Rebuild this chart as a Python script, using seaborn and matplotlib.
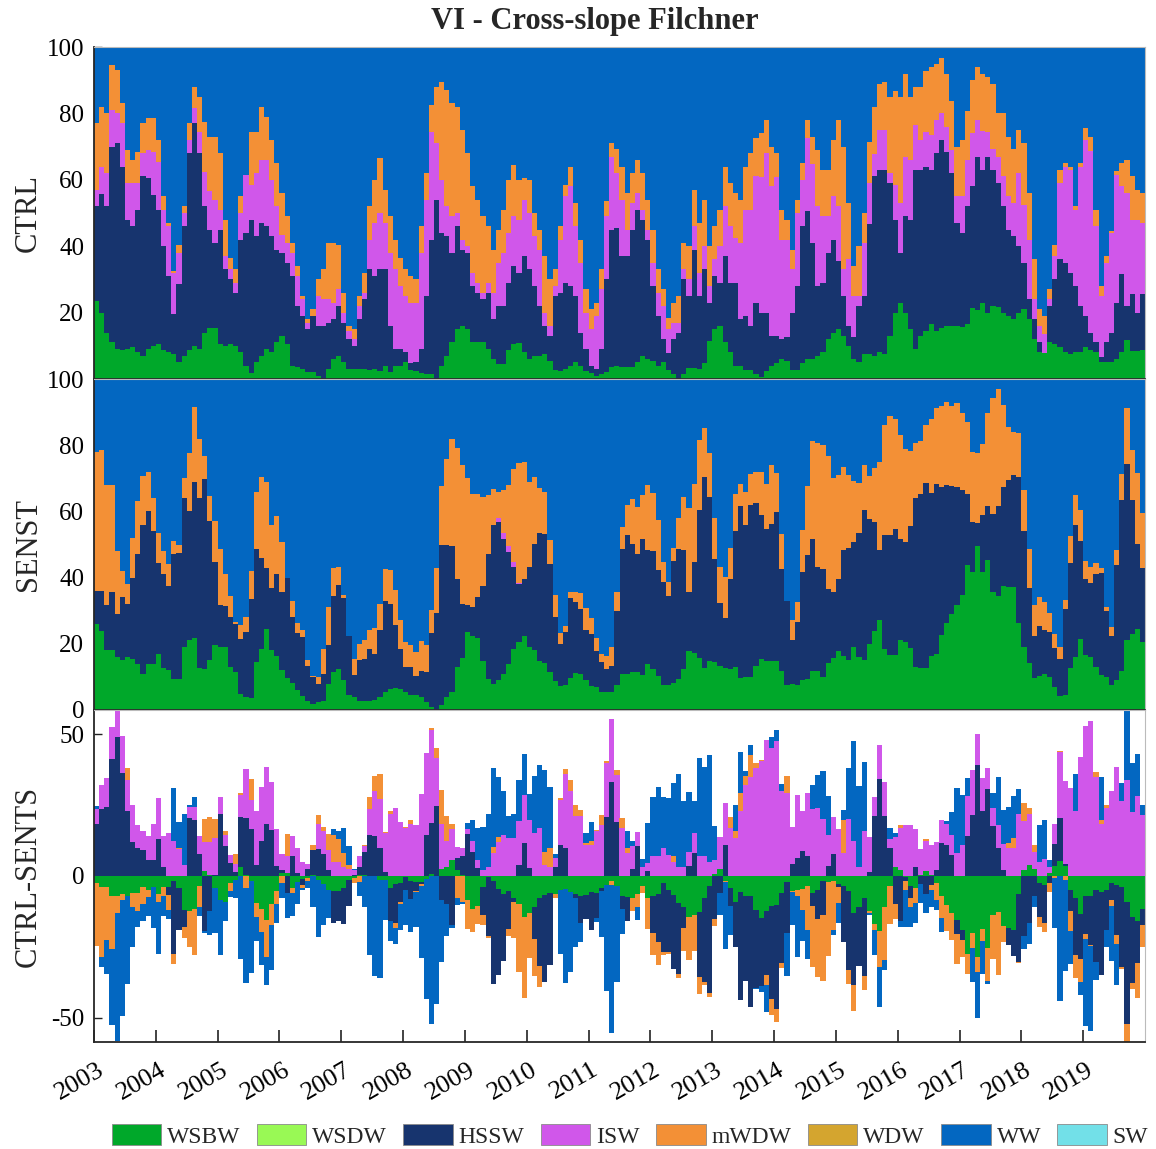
import numpy as np
import pandas as pd
import matplotlib
matplotlib.use("Agg")
import matplotlib.pyplot as plt
from matplotlib.patches import Patch
from matplotlib.transforms import ScaledTranslation
import seaborn as sns

# Water-mass names and colours (legend order)
MASSES = ["WSBW", "WSDW", "HSSW", "ISW", "mWDW", "WDW", "WW", "SW"]
COLORS = {
    "WSBW": "#00A82A", "WSDW": "#99F955", "HSSW": "#17346E", "ISW": "#D057EA",
    "mWDW": "#F39036", "WDW": "#D4A52F", "WW": "#0367C1", "SW": "#72E0E8",
}
STACKED = ["WSBW", "HSSW", "ISW", "mWDW", "WW"]
YEARS = list(range(2003, 2020))

# Monthly values (%), Jan 2003 - Dec 2019, one row per year.
# Upper edge of each stacked class (cumulative), WW fills up to 100.
ctrl_wsbw_top = [
    23.5, 20, 14, 11, 9, 8.7, 9, 9.5, 8, 7, 9, 10,
    10.5, 8.7, 8, 7.5, 5, 7, 8.7, 10, 9, 14, 15.5, 15.5,
    10.5, 10, 10.5, 10, 8, 4, 1.7, 5, 7, 9, 8, 11,
    13, 10.5, 4, 3.7, 3, 2, 2, 1, 0, 3, 6, 7,
    5, 3, 3, 3, 3, 2.7, 3, 2.5, 4, 2, 4, 4,
    5, 2.7, 2.5, 1.7, 1.4, 1.4, 0, 4, 7, 11, 15, 16,
    15, 11, 11, 11, 9, 6, 4.5, 4.5, 8.7, 10.5, 10.7, 8,
    6, 7, 7, 7.5, 5.5, 2.7, 2.5, 3, 4, 5, 4, 2.4,
    1.7, 1, 1.4, 2, 3.7, 4, 3.7, 3.5, 3.7, 5, 7, 6,
    5.5, 4, 5, 2.7, 1.4, 0, 1.5, 3.4, 3.4, 3, 4.7, 11.5,
    15, 16, 11, 8, 4, 4, 2.7, 2.7, 1.5, 0.7, 2.4, 4,
    4.7, 6, 5.5, 2.7, 2.7, 4.7, 6, 6, 7, 8, 12, 14,
    15, 13, 10, 6, 5, 7.4, 7.5, 7, 8, 7.5, 13, 20,
    23, 20, 15, 9, 13, 14.4, 16.7, 14.5, 15.5, 16, 16, 16,
    15.7, 16.5, 21.5, 20.8, 23, 20, 22, 21.8, 20, 19, 18, 20,
    21, 18, 12, 8, 7.7, 11, 10.5, 9.7, 8, 7.5, 8, 8,
    9.5, 8.7, 8, 5, 5, 5, 6, 8, 11.7, 8.5, 8.5, 8.7,
]
ctrl_hssw_top = [
    52, 55.7, 52, 70, 71, 64, 48, 46, 51, 61, 60.5, 55.5,
    51, 40, 31, 19.5, 28.5, 46, 68, 77, 68, 52, 45, 41,
    45, 33, 30, 26, 42, 44, 48, 43, 47, 46, 43, 39,
    38, 35, 31, 22, 19, 15, 19, 16, 16, 17, 18, 22,
    17, 12, 10, 18, 24, 33, 31, 33, 33, 16, 9, 9,
    8, 4.7, 5, 9, 25, 42, 54, 44, 43, 38, 46, 39,
    38, 28, 26, 24, 26, 18, 22, 22, 29, 34, 32, 37,
    33, 28, 22, 16, 13, 25, 26, 29, 28, 25, 14, 9,
    4, 3, 9, 30, 45, 45.6, 37, 37, 45, 51, 48, 42,
    28, 19, 12, 7.7, 12, 14, 30, 25, 39, 25, 33, 23,
    31, 29, 37, 29, 29, 18, 19, 16, 23, 20, 20, 13,
    13, 12, 12.7, 20, 28, 46, 50.5, 41, 28, 29, 38, 42,
    35.5, 25, 16, 12.5, 22, 25, 46.6, 61, 63, 63, 59, 48,
    38, 49, 48, 63, 63, 64, 63, 68, 72, 68.5, 62, 47,
    44, 52, 58, 67, 63, 67, 63, 59, 52, 45, 43, 40,
    35, 24, 18, 11, 7.7, 22, 30, 36, 35, 32, 28, 22,
    19, 14, 11, 6.7, 11, 14, 23, 31.5, 22, 25.6, 19.8, 25.5,
]
ctrl_isw_top = [
    57, 64, 62, 81, 80, 77, 59, 59, 59, 68, 69, 68.5,
    65.5, 51, 46, 32, 38, 50, 72, 81.5, 74.5, 62.5, 56.5, 54,
    51, 37, 33, 29, 50, 61.5, 58.5, 62, 66, 66, 60, 52,
    43.5, 41, 38, 31, 24, 17, 19, 25, 24, 24, 23, 27,
    20, 14.5, 12, 22, 26, 42, 47, 50, 47, 38, 33, 28,
    25, 23, 23, 38, 54, 74.5, 71, 60, 52, 49, 50, 42,
    40, 32, 29, 26, 29, 26, 35, 38, 44, 49, 48, 54,
    50, 43, 39, 20, 16, 28, 42, 55, 58, 46, 35, 20,
    15, 19, 27, 49, 67, 62, 54, 45, 53, 56, 51, 45,
    35, 26, 22, 15, 17, 17, 33, 30, 46, 32, 40, 28,
    36, 40, 52, 46, 42.5, 41, 51, 51, 61, 60.7, 68, 58,
    60.7, 42, 42, 33, 50, 60, 72.7, 64.7, 52, 49, 49, 55,
    52, 33, 36, 25, 25, 41, 59, 67.7, 75, 75, 62, 58.5,
    53, 67, 66, 76.6, 72, 74.5, 73.4, 78, 80, 76, 69, 55,
    55, 66, 74, 78, 74.6, 74.4, 69.4, 67, 61, 55, 53, 62,
    52.5, 42, 24, 16, 13.7, 24, 37, 59, 64, 63, 51, 64,
    72, 68.6, 46, 25, 35, 44, 61.4, 58, 56, 48, 48, 47,
]
ctrl_mwdw_top = [
    77, 82, 80, 94.5, 93, 83, 69, 66, 68.5, 77, 78.5, 78.5,
    72, 55, 47, 32.5, 40.5, 52, 77, 88, 85, 77.5, 73, 73,
    68, 48, 36.5, 33, 55, 61.5, 74.5, 74.5, 82, 79, 72, 65,
    56, 49, 41, 34, 25, 18, 21, 30, 33, 41, 41, 40.5,
    26, 16, 15, 25, 32, 52, 60, 66.5, 57, 49, 42, 36.5,
    33, 31, 30, 46, 62, 82.5, 88, 89.5, 87, 83, 82, 75,
    68, 58, 54, 49, 46, 39, 45, 51, 60, 64.5, 60, 60.5,
    60, 50, 45, 37, 30, 33, 46, 58.5, 64, 53, 42, 27,
    21, 23, 33, 53.6, 71, 69.4, 64, 56, 62, 66, 62, 54,
    45, 33, 27, 18.5, 23, 25, 41, 40, 57, 47, 54, 40,
    46, 51, 64, 59, 56, 54, 64, 68, 72.5, 74, 78, 70,
    68, 51, 48, 39, 54, 65, 78, 73, 69, 63, 63, 72,
    78, 70, 53, 34, 40, 50, 71.4, 82, 89, 89.5, 85, 86.7,
    85, 92, 85, 88, 88, 92.7, 94, 95, 96.7, 92, 83.6, 70,
    72, 80.6, 90, 94, 92, 91, 89, 80, 80, 73, 69.4, 75,
    71, 56, 36, 21, 19, 27, 40.5, 63, 65, 64, 52, 65,
    75.6, 73, 51, 28, 37, 44.5, 62.6, 65, 66, 61, 57, 56,
]

senst_wsbw_top = [
    26, 24, 18, 18, 16, 15, 16, 15.5, 14, 11, 14, 14,
    17, 12.7, 12, 9.4, 9.4, 19, 21, 21.7, 12.6, 12.4, 15, 19.7,
    19, 19, 13, 11.4, 4.8, 3.8, 3.5, 14.6, 18.5, 24.5, 18, 16.4,
    12, 9.6, 8.2, 5.9, 4.1, 2.8, 1.8, 2.3, 2.8, 7.9, 11.4, 12.4,
    9.2, 4.5, 3.8, 2.8, 2.8, 2.8, 3.1, 3.8, 5.3, 6.4, 6.7, 6.4,
    5.5, 4.5, 4.5, 3.8, 2.3, 0.8, 0, 1.5, 3.8, 5.3, 13, 15.6,
    23.5, 22.5, 21.7, 14.9, 9.4, 7.9, 9.2, 10.9, 13.9, 18.3, 20.5, 22.3,
    19, 18, 14.9, 14.2, 11.4, 8.9, 7.4, 7.6, 9.6, 11.2, 10.9, 9.2,
    7.2, 6.9, 5.5, 5.3, 5.3, 7.6, 10.9, 10.9, 11.6, 11.4, 10.6, 13.9,
    12.4, 10.4, 7.6, 7.6, 8.2, 9.4, 12.4, 17.7, 17.3, 15.6, 12.6, 14.9,
    14.4, 13.4, 12.6, 12.4, 13.1, 9.6, 9.9, 9.9, 13.4, 15.4, 14.9, 14.7,
    14.9, 11.9, 7.6, 7.9, 7.6, 9.2, 9.4, 11.9, 11.9, 9.9, 14.2, 15.6,
    17.7, 16.4, 15.2, 19, 15.9, 15.2, 20, 24, 27.3, 18.5, 16.7, 16.7,
    21, 20.5, 18.7, 13.1, 12.6, 12.6, 16.2, 17, 22.7, 26.3, 29, 31.6,
    34.6, 43.9, 41.7, 49.5, 41.7, 45.4, 35.8, 34.4, 37.6, 37.3, 37.1, 26.3,
    19, 14.2, 9.6, 10.4, 10.9, 9.9, 6.9, 4.3, 4.5, 12.6, 15.9, 21.5,
    16.7, 15.9, 12.9, 10.6, 9.9, 7.6, 9.2, 11.9, 21, 23, 24.5, 20.5,
]
senst_hssw_top = [
    36, 36, 31.6, 35.6, 29, 34, 32, 40, 47, 56, 60, 54,
    44.5, 41, 37.6, 47, 47.4, 64, 60, 69, 64, 69.7, 57, 44.7,
    31.8, 31.4, 28, 26, 21.3, 23.7, 33.4, 48.7, 46, 43, 36.8, 41,
    35.8, 40, 28, 23.3, 22, 13.4, 9.9, 7.9, 10.9, 19.7, 34.4, 37.8,
    33.8, 22.5, 10.6, 15, 15.4, 18.5, 17, 24.3, 33, 32, 25.7, 18.3,
    12.9, 12.9, 10.2, 11.9, 11.4, 23.2, 29.4, 50, 49.7, 49.5, 39.7, 32,
    31.8, 31, 34, 37.6, 47.2, 56, 56.9, 51.8, 47.7, 43.2, 38, 39.7,
    43.2, 50.3, 53.6, 53.3, 44.2, 28, 20, 23.7, 33.8, 32.6, 30.6, 24.3,
    23, 17.9, 14.4, 12.4, 13.4, 30, 48.7, 53, 50.3, 47, 51.6, 48.2,
    48, 42.2, 38.8, 34.4, 44.9, 48.5, 48.2, 35.8, 44.7, 60.5, 70.4, 64.4,
    45.7, 32.3, 27.7, 39.7, 54, 61.6, 56, 62, 62.4, 58.8, 54.8, 56.3,
    59.8, 42.7, 32.8, 21, 26.5, 41.7, 46.7, 51.6, 43.2, 42.7, 36.6, 35.8,
    39.5, 48.2, 49, 50.8, 53.6, 60.3, 57.8, 56.7, 48.2, 53, 52.8, 54.6,
    51.8, 50.8, 55.6, 64, 65.3, 68.7, 65.7, 68.4, 67.4, 67.9, 67.7, 67.4,
    66.4, 65.3, 56.8, 56.5, 58.8, 61.7, 59.3, 61.7, 67.4, 69.4, 71.1, 70.4,
    54, 36.8, 22.5, 25.3, 24.3, 23.5, 18.7, 15.4, 30.6, 44.5, 55.8, 51.1,
    39.5, 38.4, 41.2, 41.5, 30, 22.5, 43.7, 63.4, 74.2, 63.4, 50.3, 42.9,
]
# ISW in SENST is almost absent (thickness, not cumulative)
senst_isw = [0.0] * 204
senst_isw[78:83] = [1.0, 1.7, 1.7, 1.5, 0.5]
senst_mwdw_top = [
    78, 78.5, 68, 68, 48, 42, 38, 52, 63, 70.7, 72, 64,
    53.6, 48, 44, 51, 49.7, 70, 77.7, 91.6, 81.8, 76.7, 64.7, 57,
    48.7, 41, 34.3, 26.7, 25.7, 28, 42, 66, 70.4, 69, 56, 58.6,
    50.8, 40, 32.8, 26.3, 24.3, 15.2, 10.2, 9.9, 18.5, 31, 42.9, 43.2,
    34.8, 22.5, 15.4, 20, 21, 24.3, 24.7, 32, 42.7, 42.2, 36.3, 27.3,
    20.5, 19.5, 17.5, 20.7, 19.5, 30.3, 42.9, 67.6, 75.8, 82, 79.3, 74,
    70, 65.2, 65.2, 64.4, 65, 66.7, 66, 66.4, 67.9, 72.7, 74.7, 75,
    69, 70.4, 67, 66, 51.3, 34.6, 23.3, 25.5, 35.8, 35.6, 35.4, 30.8,
    27.7, 21.7, 16.9, 16.4, 19, 35.6, 55.3, 62, 63.7, 61.4, 65, 68.1,
    65.7, 57.5, 44.7, 38.8, 48.9, 58, 64.4, 61, 68.4, 81.7, 85.3, 77.7,
    58, 43.2, 40.2, 49, 65.2, 68.4, 65.9, 71.4, 72, 72, 68.4, 74,
    71.6, 53.3, 32.8, 27.3, 32.6, 54.3, 67.6, 81.2, 80.7, 80, 76.7, 70.1,
    70.9, 73.5, 71.1, 69.1, 68.7, 74, 70.7, 73, 75, 86, 88.9, 87.9,
    83, 78.9, 78.1, 80.7, 81.2, 86.1, 87.9, 91.3, 91.8, 93.1, 91.8, 92.9,
    89.6, 86.9, 77.9, 77.7, 80.5, 89.8, 94.3, 97, 92.1, 85.6, 84.1, 83.6,
    66.4, 48.7, 31.8, 34.1, 32.6, 29.4, 23, 19, 33.1, 52.5, 65.1, 60.3,
    44.9, 43.2, 44.5, 43, 31, 25, 48.2, 71.4, 91.1, 78.5, 71.7, 59.6,
]

N = 12 * len(YEARS)
START = YEARS[0]
t_mid = START + (np.arange(N) + 0.5) / 12
edges = (START + np.arange(N + 1) / 12).tolist()


def components(tops):
    """Turn cumulative upper edges into layer thicknesses (WW fills to 100)."""
    e = np.vstack([np.zeros(N)] + [np.asarray(x, float) for x in tops] + [np.full(N, 100.0)])
    e = np.maximum.accumulate(e, axis=0)
    return dict(zip(STACKED, np.diff(e, axis=0)))


def long_frame(comp):
    return pd.concat(
        [pd.DataFrame({"t": t_mid, "mass": m, "pct": comp[m]}) for m in STACKED],
        ignore_index=True,
    )


def stacked_bars(ax, comp):
    # seaborn stacks the last hue level at the bottom
    sns.histplot(
        data=long_frame(comp), x="t", weights="pct", hue="mass",
        hue_order=STACKED[::-1], palette=COLORS, bins=edges,
        multiple="stack", element="bars", stat="count",
        linewidth=0, alpha=1, antialiased=False, legend=False, ax=ax,
    )


ctrl = components([ctrl_wsbw_top, ctrl_hssw_top, ctrl_isw_top, ctrl_mwdw_top])
senst_isw_top = np.asarray(senst_hssw_top) + np.asarray(senst_isw)
senst = components([senst_wsbw_top, senst_hssw_top, senst_isw_top, senst_mwdw_top])
diff = {m: ctrl[m] - senst[m] for m in STACKED}

sns.set_theme(style="ticks")
plt.rcParams["font.family"] = ["Liberation Serif", "DejaVu Serif"]
plt.rcParams["axes.unicode_minus"] = False

fig = plt.figure(figsize=(11.56, 11.49), dpi=100)
L, W, H = 94 / 1156, 1051 / 1156, 332 / 1149
ax_top = fig.add_axes([L, 770 / 1149, W, H])
ax_mid = fig.add_axes([L, 439 / 1149, W, 331 / 1149])
ax_bot = fig.add_axes([L, 107 / 1149, W, H])

stacked_bars(ax_top, ctrl)
stacked_bars(ax_mid, senst)
stacked_bars(ax_bot, {m: np.clip(diff[m], 0, None) for m in STACKED})
stacked_bars(ax_bot, {m: np.clip(diff[m], None, 0) for m in STACKED})

ax_top.set_ylim(0, 100)
ax_top.set_yticks([20, 40, 60, 80, 100])
ax_mid.set_ylim(0, 100)
ax_mid.set_yticks([0, 20, 40, 60, 80, 100])
ax_bot.set_ylim(-58.5, 58.5)
ax_bot.set_yticks([-50, 0, 50])

for ax, lab in [(ax_top, "CTRL"), (ax_mid, "SENST"), (ax_bot, "CTRL-SENTS")]:
    ax.set_xlim(START, START + len(YEARS))
    ax.set_xticks(YEARS)
    ax.set_axisbelow(True)
    ax.set_xlabel("")
    ax.set_ylabel(lab, fontsize=22)
    ax.yaxis.set_label_coords(-0.049, 0.5)
    ax.tick_params(axis="y", direction="in", length=6, width=1, pad=7,
                   labelsize=18, colors="#222222", labelcolor="black")
    for side in ["left", "bottom"]:
        ax.spines[side].set_color("#262626")
        ax.spines[side].set_linewidth(1.3)
    for side in ["top", "right"]:
        ax.spines[side].set_color("#BBBBBB")
        ax.spines[side].set_linewidth(0.8)

for ax in (ax_top, ax_mid):
    ax.tick_params(axis="x", length=0, labelbottom=False)

ax_bot.tick_params(axis="x", direction="in", length=9, width=1.2, pad=12,
                   labelsize=19, colors="#222222", labelcolor="black")
shift = ScaledTranslation(3 / 100, 0, fig.dpi_scale_trans)
for lbl in ax_bot.get_xticklabels():
    lbl.set_rotation(30)
    lbl.set_ha("right")
    lbl.set_va("top")
    lbl.set_rotation_mode("anchor")
    lbl.set_transform(lbl.get_transform() + shift)

fig.text(595 / 1156, 1 - 22 / 1149, "VI - Cross-slope Filchner",
         ha="center", va="center", fontsize=22, fontweight="bold")

handles = [Patch(facecolor=COLORS[m], edgecolor="#8A8A8A", linewidth=0.6, label=m)
           for m in MASSES]
fig.legend(handles=handles, loc="center", bbox_to_anchor=(630 / 1156, 1 - 1136 / 1149),
           ncol=len(MASSES), frameon=False, fontsize=17, handlelength=2.1,
           handleheight=0.95, handletextpad=0.25, columnspacing=0.69,
           borderpad=0, borderaxespad=0)

fig.savefig("out.png", dpi=100)
